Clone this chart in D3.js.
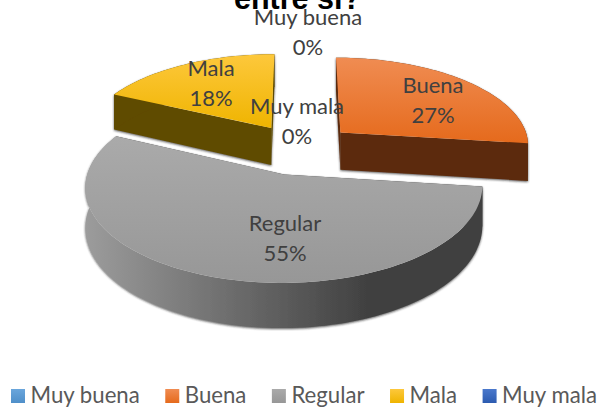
<!DOCTYPE html>
<html>
<head>
<meta charset="UTF-8">
<title>Pie 3D</title>
<script src="https://cdnjs.cloudflare.com/ajax/libs/d3/7.8.5/d3.min.js"></script>
<style>
html, body { margin: 0; padding: 0; background: #fff; overflow: hidden; }
text { font-family: Lato, "Open Sans", sans-serif; fill: #404040; }
</style>
</head>
<body>
<div id="draw-here"></div>
<script>
// Chart data
var categories = ["Muy buena", "Buena", "Regular", "Mala", "Muy mala"];
var values = [0, 27, 55, 18, 0];
var titleText = "entre sí?";

// Colours: top of face, bottom of face, wall
var topColors = ["#6aa6dc", "#f08c52", "#aaaaaa", "#fdc83c", "#4a78cc"];
var lowColors = ["#4f8fc9", "#e56a1c", "#979797", "#efb400", "#2c5bb0"];
var wallColors = ["#2d5a85", "#5c2c0b", "#404040", "#5f4b00", "#1f3a70"];

// Where each data label sits
var labelX = [308, 433, 285, 211, 297];
var labelY = [19, 87, 225, 70, 108];

var w = 601, h = 409;

// Perspective of the pie plane
var vx = 300, vy = 149, radiusX = 190, radiusY = 88, depth = 38, persp = 8;
var explode = 0.29;

var svg = d3.select("#draw-here").append("svg")
    .attr("width", w)
    .attr("height", h)
    .style("display", "block");

var defs = svg.append("defs");

var shadow = defs.append("filter").attr("id", "wall-shadow")
    .attr("x", "-10%").attr("y", "-10%").attr("width", "120%").attr("height", "125%");
shadow.append("feDropShadow")
    .attr("dx", 0).attr("dy", 1)
    .attr("stdDeviation", 1.3)
    .attr("flood-color", "#222")
    .attr("flood-opacity", 0.75);

categories.forEach(function(c, i) {
    var g = defs.append("linearGradient").attr("id", "face" + i)
        .attr("x1", 0).attr("y1", 0).attr("x2", 0).attr("y2", 1);
    g.append("stop").attr("offset", "0%").attr("stop-color", topColors[i]);
    g.append("stop").attr("offset", "100%").attr("stop-color", lowColors[i]);
});

// The long rim of the big slice fades from left to right
var rimGrad = defs.append("linearGradient").attr("id", "rim-regular")
    .attr("gradientUnits", "userSpaceOnUse")
    .attr("x1", 85).attr("y1", 0).attr("x2", 370).attr("y2", 0);
rimGrad.append("stop").attr("offset", "0%").attr("stop-color", "#9c9c9c");
rimGrad.append("stop").attr("offset", "100%").attr("stop-color", "#404040");

var pie = d3.pie().sort(null).startAngle(0).endAngle(2 * Math.PI);
var arcs = pie(values);
var line = d3.line();

// World position on the pie plane -> screen, z is the drop below the top face
function project(wx, wy, z) {
    var s = 1 / (1 - wy / persp);
    return [vx + radiusX * wx * s, vy + (radiusY * wy + z) * s];
}

function slicePoints(d, z) {
    var mid = (d.startAngle + d.endAngle) / 2;
    var ox = explode * Math.sin(mid), oy = -explode * Math.cos(mid);
    var steps = Math.ceil((d.endAngle - d.startAngle) / 0.03);
    var rim = d3.range(steps + 1).map(function(k) {
        var a = d.startAngle + (d.endAngle - d.startAngle) * k / steps;
        return project(ox + Math.sin(a), oy - Math.cos(a), z);
    });
    return { apex: project(ox, oy, z), rim: rim };
}

// Back slices first, the front one last
var order = arcs
    .map(function(d, i) { return { d: d, i: i }; })
    .filter(function(o) { return o.d.value > 0; })
    .sort(function(a, b) {
        return -Math.cos((a.d.startAngle + a.d.endAngle) / 2) - -Math.cos((b.d.startAngle + b.d.endAngle) / 2);
    });

var slices = svg.append("g");

order.forEach(function(o) {
    var topPts = slicePoints(o.d, 0);
    var lowPts = slicePoints(o.d, depth);
    var n = topPts.rim.length - 1;
    var g = slices.append("g");
    var walls = g.append("g").attr("filter", "url(#wall-shadow)");
    var rimFill = categories[o.i] === "Regular" ? "url(#rim-regular)" : wallColors[o.i];

    // Cut faces
    walls.append("path")
        .attr("d", line([topPts.apex, topPts.rim[0], lowPts.rim[0], lowPts.apex]) + "Z")
        .attr("fill", wallColors[o.i]);
    walls.append("path")
        .attr("d", line([topPts.apex, topPts.rim[n], lowPts.rim[n], lowPts.apex]) + "Z")
        .attr("fill", wallColors[o.i]);

    // Outer rim
    walls.append("path")
        .attr("d", line(topPts.rim.concat(lowPts.rim.slice().reverse())) + "Z")
        .attr("fill", rimFill);

    // Top face
    g.append("path")
        .attr("d", line([topPts.apex].concat(topPts.rim)) + "Z")
        .attr("fill", "url(#face" + o.i + ")");
});

// Title, cut off by the top of the picture
svg.append("text")
    .attr("x", 297.5)
    .attr("y", 9)
    .attr("text-anchor", "middle")
    .style("font-family", "'Liberation Sans', Arial, sans-serif")
    .style("fill", "#000")
    .attr("font-weight", "bold")
    .attr("font-size", 30.5)
    .text(titleText);

// Data labels
var labels = svg.append("g").attr("text-anchor", "middle").attr("font-size", 22);
categories.forEach(function(c, i) {
    var t = labels.append("text").attr("x", labelX[i]).attr("y", labelY[i] + 6);
    t.append("tspan").attr("x", labelX[i]).text(c);
    t.append("tspan").attr("x", labelX[i]).attr("dy", 29.5).text(values[i] + "%");
});

// Legend, laid out along the row from the measured text widths
var legend = svg.append("g");
var legendX = 11;
categories.forEach(function(c, i) {
    legend.append("rect")
        .attr("x", legendX).attr("y", 389)
        .attr("width", 14).attr("height", 14)
        .attr("fill", "url(#face" + i + ")");
    var t = legend.append("text")
        .attr("x", legendX + 19.5).attr("y", 403)
        .attr("font-size", 22.2)
        .style("fill", "#595959")
        .text(c);
    legendX += 19.5 + t.node().getComputedTextLength() + 25.5;
});
</script>
</body>
</html>
